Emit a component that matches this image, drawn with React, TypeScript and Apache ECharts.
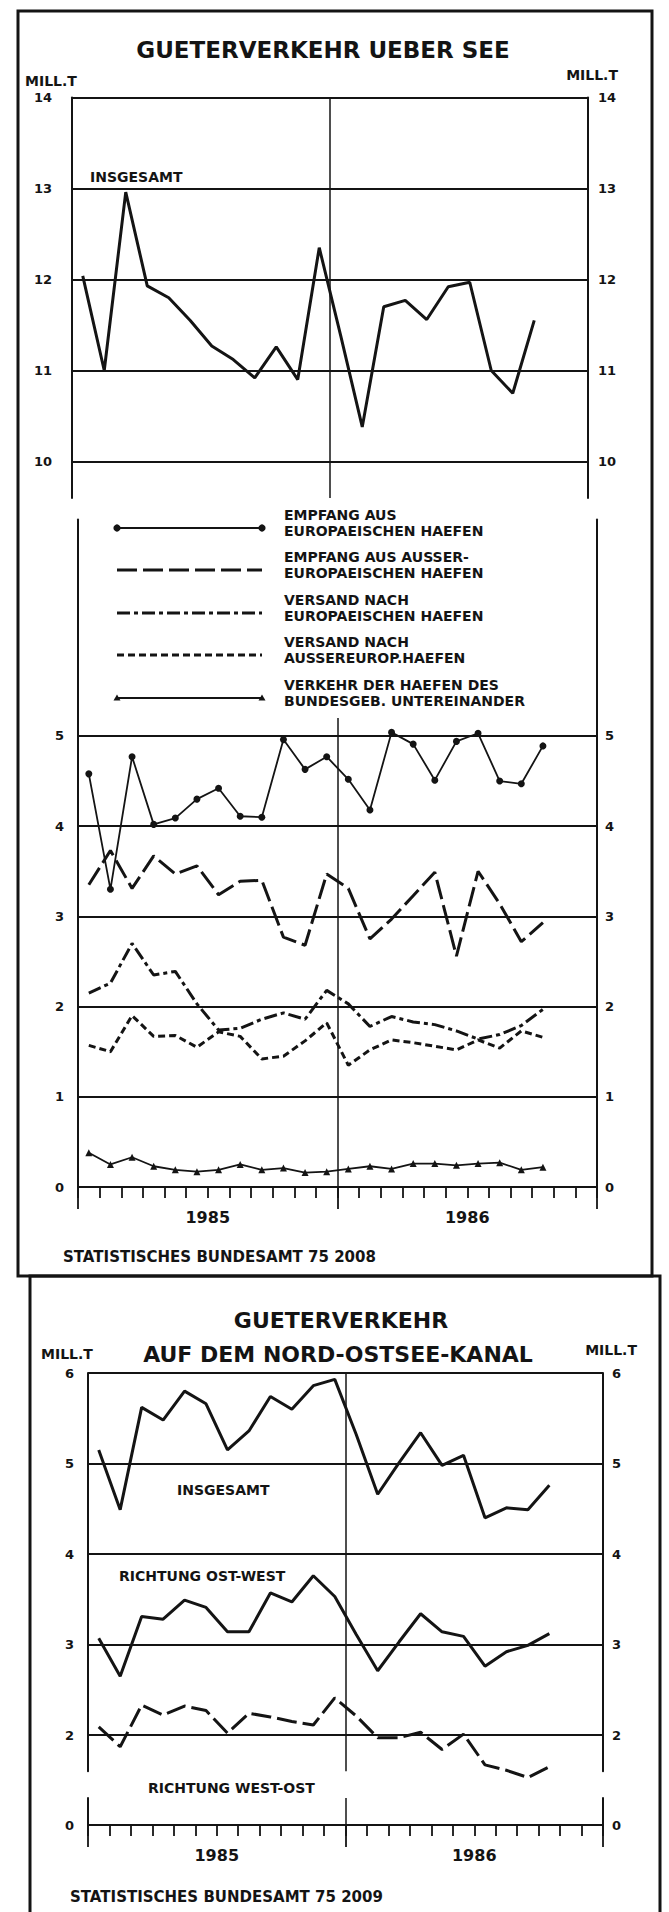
import React, { useEffect, useRef } from 'react';
import * as echarts from 'echarts';

// ---------- data ----------
const months = [
  '1985-01', '1985-02', '1985-03', '1985-04', '1985-05', '1985-06',
  '1985-07', '1985-08', '1985-09', '1985-10', '1985-11', '1985-12',
  '1986-01', '1986-02', '1986-03', '1986-04', '1986-05', '1986-06',
  '1986-07', '1986-08', '1986-09', '1986-10', '1986-11', '1986-12',
];
const years = ['1985', '1986'];

// Gueterverkehr ueber See, Mill. t
const seeInsgesamt = [12.04, 11.0, 12.96, 11.93, 11.8, 11.55, 11.27, 11.12, 10.92, 11.26, 10.9, 12.35, 11.38, 10.38, 11.7, 11.77, 11.56, 11.92, 11.97, 11.0, 10.75, 11.55];
const empfangEuropa = [4.58, 3.3, 4.77, 4.02, 4.09, 4.3, 4.42, 4.11, 4.1, 4.96, 4.63, 4.77, 4.52, 4.18, 5.04, 4.91, 4.51, 4.94, 5.03, 4.5, 4.47, 4.89];
const empfangAusser = [3.35, 3.73, 3.31, 3.67, 3.47, 3.56, 3.24, 3.39, 3.4, 2.77, 2.68, 3.47, 3.31, 2.75, 2.97, 3.23, 3.49, 2.56, 3.5, 3.14, 2.72, 2.93];
const versandEuropa = [2.15, 2.26, 2.7, 2.35, 2.39, 2.03, 1.74, 1.76, 1.86, 1.93, 1.86, 2.18, 2.03, 1.78, 1.89, 1.83, 1.8, 1.73, 1.64, 1.69, 1.79, 1.97];
const versandAusser = [1.57, 1.5, 1.9, 1.67, 1.68, 1.55, 1.72, 1.67, 1.42, 1.45, 1.62, 1.82, 1.35, 1.52, 1.63, 1.6, 1.56, 1.52, 1.63, 1.54, 1.73, 1.66];
const verkehrBund = [0.38, 0.25, 0.33, 0.23, 0.19, 0.17, 0.19, 0.25, 0.19, 0.21, 0.16, 0.17, 0.2, 0.23, 0.2, 0.26, 0.26, 0.24, 0.26, 0.27, 0.19, 0.22];

// Gueterverkehr auf dem Nord-Ostsee-Kanal, Mill. t
const kanalInsgesamt = [5.15, 4.49, 5.62, 5.48, 5.8, 5.66, 5.15, 5.36, 5.74, 5.6, 5.86, 5.93, 5.32, 4.66, 5.01, 5.34, 4.98, 5.09, 4.4, 4.51, 4.49, 4.76];
const kanalOstWest = [3.07, 2.65, 3.31, 3.28, 3.49, 3.41, 3.14, 3.14, 3.57, 3.47, 3.76, 3.53, 3.11, 2.71, 3.03, 3.34, 3.14, 3.09, 2.76, 2.92, 2.99, 3.12];
const kanalWestOst = [2.09, 1.87, 2.33, 2.22, 2.32, 2.27, 2.02, 2.24, 2.2, 2.15, 2.11, 2.41, 2.21, 1.97, 1.97, 2.03, 1.84, 2.01, 1.67, 1.61, 1.53, 1.65];

// tick labels
const ticksSee = [10, 11, 12, 13, 14];
const ticksHaefen = [0, 1, 2, 3, 4, 5];
const ticksKanal = [2, 3, 4, 5, 6];
const ticksKanalNull = [0];

const legendLabels = [
  'EMPFANG AUS\nEUROPAEISCHEN HAEFEN',
  'EMPFANG AUS AUSSER-\nEUROPAEISCHEN HAEFEN',
  'VERSAND NACH\nEUROPAEISCHEN HAEFEN',
  'VERSAND NACH\nAUSSEREUROP.HAEFEN',
  'VERKEHR DER HAEFEN DES\nBUNDESGEB. UNTEREINANDER',
];

// ---------- styling helpers ----------
const INK = '#141414';
const FONT = "'DejaVu Sans', 'Liberation Sans', sans-serif";

const DASH_AUSSER: number[] = [20, 6];
const DASH_VERS_EU: number[] = [13, 4, 4, 4];
const DASH_VERS_AUS: number[] = [7, 4];
const DASH_WESTOST: number[] = [20, 6];

function valueAxis(gridIndex: number, min: number, max: number, ticks: number[], position: string, margin: number) {
  return {
    type: 'value', gridIndex, min, max, position,
    axisLine: { show: true, onZero: false, lineStyle: { color: INK, width: 2 } },
    axisTick: { show: false },
    splitLine: { show: false },
    axisLabel: {
      show: true, customValues: ticks, margin,
      color: INK, fontFamily: FONT, fontWeight: 'bold', fontSize: 13,
    },
  };
}

function monthAxis(gridIndex: number, showLine: boolean) {
  return {
    type: 'category', gridIndex, data: months, boundaryGap: true, position: 'bottom',
    axisLine: { show: showLine, onZero: false, lineStyle: { color: INK, width: 2 } },
    axisTick: { show: showLine, interval: 0, length: 11, lineStyle: { color: INK, width: 1.8 } },
    axisLabel: { show: false },
    splitLine: { show: false },
  };
}

function yearAxis(gridIndex: number, showLabels: boolean) {
  return {
    type: 'category', gridIndex, data: years, boundaryGap: true, position: 'bottom',
    axisLine: { show: false, onZero: false },
    axisTick: { show: showLabels, interval: 0, length: 22, lineStyle: { color: INK, width: 1.8 } },
    axisLabel: {
      show: showLabels, interval: 0, margin: 22,
      color: INK, fontFamily: FONT, fontWeight: 'bold', fontSize: 16,
    },
    splitLine: { show: true, interval: 0, lineStyle: { color: INK, width: 1.5 } },
  };
}

function gridLines(values: number[]) {
  return {
    silent: true, symbol: ['none', 'none'], animation: false,
    label: { show: false },
    emphasis: { disabled: true },
    lineStyle: { color: INK, width: 2, type: 'solid' },
    data: values.map((v) => ({ yAxis: v })),
  };
}

function text(t: string, x: number, y: number, size: number, align = 'left', extra: any = {}) {
  return {
    type: 'text', x, y, z: 20, silent: true,
    style: {
      text: t, fill: INK, fontFamily: FONT, fontWeight: 'bold', fontSize: size,
      align, verticalAlign: 'middle', textAlign: align, textVerticalAlign: 'middle',
      ...extra,
    },
  };
}

// legend (drawn as graphic)
const legendX1 = 117;
const legendX2 = 262;
const legendRowY = [528, 570, 613, 655, 698];

function buildLegend() {
  const els: any[] = [];
  const dashes: (number[] | null)[] = [null, DASH_AUSSER, DASH_VERS_EU, DASH_VERS_AUS, null];
  const widths = [1.8, 3, 3, 3, 1.8];
  legendLabels.forEach((lab, i) => {
    const y = legendRowY[i];
    els.push({
      type: 'line', z: 20, silent: true,
      shape: { x1: legendX1, y1: y, x2: legendX2, y2: y },
      style: { stroke: INK, lineWidth: widths[i], lineDash: dashes[i] || undefined },
    });
    if (i === 0) {
      els.push({ type: 'circle', z: 21, silent: true, shape: { cx: legendX1, cy: y, r: 3.6 }, style: { fill: INK } });
      els.push({ type: 'circle', z: 21, silent: true, shape: { cx: legendX2, cy: y, r: 3.6 }, style: { fill: INK } });
    }
    if (i === 4) {
      [legendX1, legendX2].forEach((cx) => {
        els.push({
          type: 'polygon', z: 21, silent: true,
          shape: { points: [[cx, y - 3.5], [cx - 3.5, y + 2.5], [cx + 3.5, y + 2.5]] },
          style: { fill: INK },
        });
      });
    }
    els.push(text(lab, 284, y - 5, 14, 'left', { lineHeight: 16 }));
  });
  return els;
}

const option: any = {
  animation: false,
  backgroundColor: '#ffffff',
  textStyle: { fontFamily: FONT },
  grid: [
    { left: 72, top: 97.5, width: 516, height: 400.4 },
    { left: 78, top: 519.5, width: 519, height: 667.5 },
    { left: 78, top: 718, width: 519, height: 469 },
    { left: 88, top: 1373, width: 515, height: 398.2 },
    { left: 88, top: 1798, width: 515, height: 27 },
  ],
  xAxis: [
    monthAxis(0, false),
    yearAxis(0, false),
    monthAxis(1, true),
    yearAxis(2, true),
    monthAxis(3, false),
    yearAxis(3, false),
    monthAxis(4, true),
    yearAxis(4, true),
  ],
  yAxis: [
    valueAxis(0, 9.6, 14, ticksSee, 'left', 20),
    valueAxis(0, 9.6, 14, ticksSee, 'right', 10),
    valueAxis(1, 0, 7.4, ticksHaefen, 'left', 14),
    valueAxis(1, 0, 7.4, ticksHaefen, 'right', 8),
    { type: 'value', gridIndex: 2, min: 0, max: 1, show: false },
    valueAxis(3, 1.6, 6, ticksKanal, 'left', 14),
    valueAxis(3, 1.6, 6, ticksKanal, 'right', 9),
    valueAxis(4, 0, 0.3, ticksKanalNull, 'left', 14),
    valueAxis(4, 0, 0.3, ticksKanalNull, 'right', 9),
  ],
  series: [
    {
      type: 'line', name: 'INSGESAMT (SEE)', xAxisIndex: 0, yAxisIndex: 0, data: seeInsgesamt,
      showSymbol: false, lineStyle: { color: INK, width: 3 }, z: 5,
      markLine: gridLines(ticksSee),
    },
    {
      type: 'line', name: legendLabels[0].replace('\n', ' '), xAxisIndex: 2, yAxisIndex: 2, data: empfangEuropa,
      symbol: 'circle', symbolSize: 7, showSymbol: true, showAllSymbol: true,
      itemStyle: { color: INK }, lineStyle: { color: INK, width: 1.8 }, z: 5,
      markLine: gridLines(ticksHaefen.filter((v) => v > 0)),
    },
    {
      type: 'line', name: legendLabels[1].replace('\n', ' '), xAxisIndex: 2, yAxisIndex: 2, data: empfangAusser,
      showSymbol: false, lineStyle: { color: INK, width: 3, type: DASH_AUSSER }, z: 5,
    },
    {
      type: 'line', name: legendLabels[2].replace('\n', ' '), xAxisIndex: 2, yAxisIndex: 2, data: versandEuropa,
      showSymbol: false, lineStyle: { color: INK, width: 3, type: DASH_VERS_EU }, z: 5,
    },
    {
      type: 'line', name: legendLabels[3].replace('\n', ' '), xAxisIndex: 2, yAxisIndex: 2, data: versandAusser,
      showSymbol: false, lineStyle: { color: INK, width: 3, type: DASH_VERS_AUS }, z: 5,
    },
    {
      type: 'line', name: legendLabels[4].replace('\n', ' '), xAxisIndex: 2, yAxisIndex: 2, data: verkehrBund,
      symbol: 'triangle', symbolSize: 7, showSymbol: true, showAllSymbol: true,
      itemStyle: { color: INK }, lineStyle: { color: INK, width: 1.8 }, z: 5,
    },
    {
      type: 'line', name: 'INSGESAMT (KANAL)', xAxisIndex: 4, yAxisIndex: 5, data: kanalInsgesamt,
      showSymbol: false, lineStyle: { color: INK, width: 3 }, z: 5, clip: false,
      markLine: gridLines(ticksKanal),
    },
    {
      type: 'line', name: 'RICHTUNG OST-WEST', xAxisIndex: 4, yAxisIndex: 5, data: kanalOstWest,
      showSymbol: false, lineStyle: { color: INK, width: 3 }, z: 5, clip: false,
    },
    {
      type: 'line', name: 'RICHTUNG WEST-OST', xAxisIndex: 4, yAxisIndex: 5, data: kanalWestOst,
      showSymbol: false, lineStyle: { color: INK, width: 3, type: DASH_WESTOST }, z: 5, clip: false,
    },
  ],
  graphic: [
    // frames
    { type: 'rect', z: 30, silent: true, shape: { x: 18, y: 11, width: 634, height: 1265 }, style: { fill: 'none', stroke: INK, lineWidth: 3 } },
    { type: 'rect', z: 30, silent: true, shape: { x: 30, y: 1276, width: 630, height: 660 }, style: { fill: 'none', stroke: INK, lineWidth: 3 } },
    // panel 1 texts
    text('GUETERVERKEHR UEBER SEE', 323, 50, 23, 'center'),
    text('MILL.T', 25, 81, 14, 'left'),
    text('MILL.T', 618, 75, 14, 'right'),
    text('INSGESAMT', 90, 177, 14, 'left'),
    ...buildLegend(),
    text('STATISTISCHES BUNDESAMT 75 2008', 63, 1257, 15, 'left'),
    // panel 2 texts
    text('GUETERVERKEHR', 341, 1320, 22, 'center'),
    text('AUF DEM NORD-OSTSEE-KANAL', 338, 1354, 22, 'center'),
    text('MILL.T', 41, 1354, 14, 'left'),
    text('MILL.T', 637, 1350, 14, 'right'),
    text('INSGESAMT', 177, 1490, 14, 'left'),
    text('RICHTUNG OST-WEST', 119, 1576, 14, 'left'),
    text('RICHTUNG WEST-OST', 148, 1788, 14, 'left'),
    text('STATISTISCHES BUNDESAMT 75 2009', 70, 1897, 15, 'left'),
  ],
};

export default function App() {
  const ref = useRef<HTMLDivElement>(null);
  useEffect(() => {
    document.body.style.margin = '0';
    const chart = echarts.init(ref.current as HTMLDivElement, null, { renderer: 'svg' });
    chart.setOption(option);
    return () => chart.dispose();
  }, []);
  return <div ref={ref} style={{ width: 669, height: 1912, background: '#ffffff' }} />;
}
